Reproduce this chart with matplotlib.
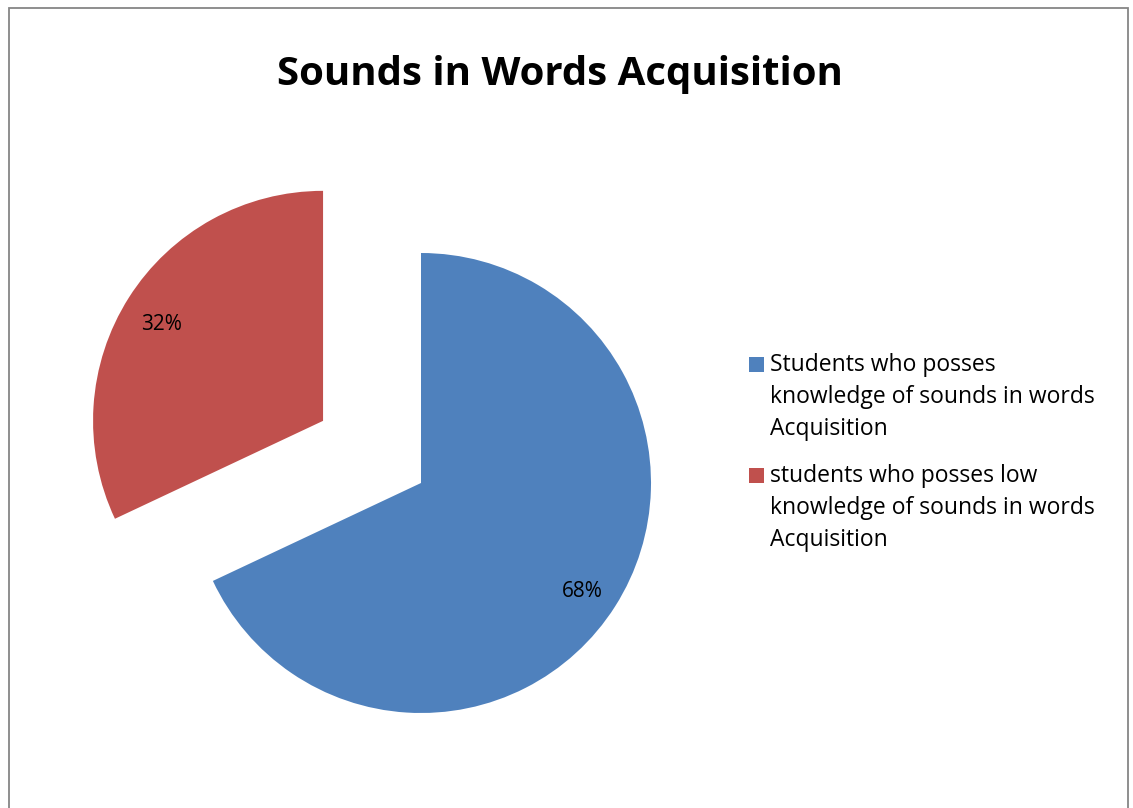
import matplotlib
matplotlib.use('Agg')
import matplotlib.pyplot as plt
from matplotlib.patches import Rectangle

title = 'Sounds in Words Acquisition'
labels = ['Students who posses\nknowledge of sounds in words\nAcquisition',
          'students who posses low\nknowledge of sounds in words\nAcquisition']
values = [68, 32]
colors = ['#4F81BD', '#C0504D']

W, H = 1133, 808
fig = plt.figure(figsize=(W / 100, H / 100), dpi=100)
ax = fig.add_axes([0, 0, 1, 1])

# chart border
ax.add_patch(Rectangle((8.5, -10), 1119, H - 8 + 10, fill=False, ec='#868686', lw=1.3))

# explode is in data units here (pixels), red slice pulled out ~116 px
wedges, texts, autotexts = ax.pie(values, colors=colors, startangle=90, counterclock=False,
                                  center=(421, H - 483), radius=230, explode=[0, 116],
                                  autopct='%1.0f%%', pctdistance=0.83,
                                  wedgeprops={'linewidth': 0},
                                  textprops={'fontsize': 15, 'family': 'Open Sans'},
                                  frame=True)
for t in autotexts:
    x, y = t.get_position()
    t.set_position((x, y - 6))

ax.set_xlim(0, W)
ax.set_ylim(0, H)
ax.set_aspect('equal')
ax.axis('off')

fig.text(560 / W, 1 - 75 / H, title, ha='center', va='center', fontsize=29,
         fontweight='bold', family='Open Sans')

# legend drawn by hand so the marker sits on the first line
for i, (lab, c) in enumerate(zip(labels, colors)):
    top = 353 + i * 111
    ax.add_patch(Rectangle((749, H - top - 19), 15, 15, color=c, lw=0))
    ax.text(770, H - top, lab, ha='left', va='top', fontsize=16.5,
            family='Open Sans', linespacing=1.45)

fig.savefig('out.png', dpi=100)
